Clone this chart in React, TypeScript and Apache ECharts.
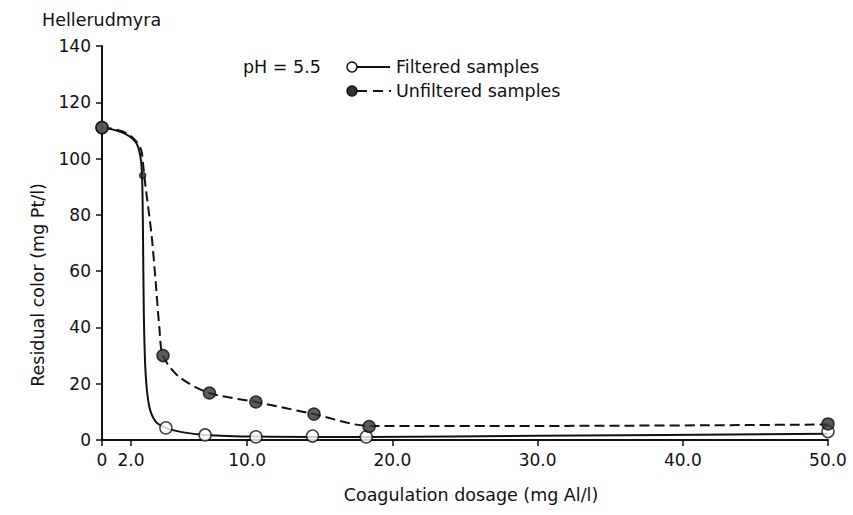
import React, { useEffect, useRef } from "react";
import * as echarts from "echarts";

// Marker points
const filteredX = [0, 4.4, 7.1, 10.6, 14.5, 18.2, 50];
const filteredY = [111, 4.3, 1.8, 1.1, 1.4, 1.1, 3.0];
const unfilteredX = [0, 2.8, 4.2, 7.4, 10.6, 14.6, 18.4, 50];
const unfilteredY = [111, 94, 30, 16.7, 13.5, 9.2, 4.8, 5.7];

// Hand-drawn fitted curves
const filteredCurveX = [0, 1.0, 1.7, 2.3, 2.6, 2.75, 2.82, 2.88, 3.0, 3.25, 3.7, 4.4, 5.5, 7.1, 10.6, 14.5, 18.2, 30, 50];
const filteredCurveY = [111, 110, 108.5, 106, 102, 95, 75, 45, 24, 12, 6.5, 4.3, 2.8, 1.8, 1.2, 1.1, 1.1, 1.5, 2.2];
const unfilteredCurveX = [0, 1.0, 1.7, 2.3, 2.7, 2.85, 3.0, 3.4, 3.7, 3.95, 4.2, 5.3, 7.4, 10.6, 14.6, 18.4, 30, 50];
const unfilteredCurveY = [111, 110.3, 109, 106.5, 103, 97, 90, 73.5, 56, 40, 30, 22.5, 16.7, 13.5, 9.2, 5.0, 5.0, 5.5];

const xTicks = [0, 2, 10, 20, 30, 40, 50];
const yTicks = [0, 20, 40, 60, 80, 100, 120, 140];

const pairs = (xs: number[], ys: number[]) => xs.map((x, i) => [x, ys[i]]);

const FONT = "DejaVu Sans";

export default function App() {
  const ref = useRef<HTMLDivElement>(null);
  useEffect(() => {
    if (!ref.current) return;
    const chart = echarts.init(ref.current, undefined, { renderer: "svg" });
    chart.setOption({
      animation: false,
      backgroundColor: "#ffffff",
      textStyle: { fontFamily: FONT, color: "#111" },
      grid: { left: 102, right: 25, top: 46, bottom: 75 },
      xAxis: {
        type: "value",
        min: 0,
        max: 50,
        name: "Coagulation dosage (mg Al/l)",
        nameLocation: "middle",
        nameGap: 46,
        nameTextStyle: { fontFamily: FONT, fontSize: 17.5, color: "#111", padding: [0, 0, 0, 12] },
        axisLine: { show: true, onZero: false, lineStyle: { color: "#111", width: 2 } },
        axisTick: { show: true, customValues: xTicks, length: 6, lineStyle: { color: "#111", width: 1.5 } },
        axisLabel: {
          customValues: xTicks,
          margin: 11,
          fontFamily: FONT,
          fontSize: 17,
          color: "#111",
          formatter: (v: number) => (v === 0 ? "0" : v.toFixed(1)),
        },
        splitLine: { show: false },
      },
      yAxis: {
        type: "value",
        min: 0,
        max: 140,
        interval: 20,
        axisLine: { show: true, lineStyle: { color: "#111", width: 2 } },
        axisTick: { show: true, length: 6, lineStyle: { color: "#111", width: 1.5 } },
        axisLabel: {
          margin: 11,
          fontFamily: FONT,
          fontSize: 17,
          color: "#111",
          customValues: yTicks,
        },
        splitLine: { show: false },
      },
      series: [
        {
          name: "Filtered curve",
          type: "line",
          data: pairs(filteredCurveX, filteredCurveY),
          smooth: 0.3,
          showSymbol: false,
          lineStyle: { color: "#111", width: 2 },
          z: 2,
        },
        {
          name: "Unfiltered curve",
          type: "line",
          data: pairs(unfilteredCurveX, unfilteredCurveY),
          smooth: 0.3,
          showSymbol: false,
          lineStyle: { color: "#111", width: 2, type: [10, 5] },
          z: 2,
        },
        {
          name: "Filtered samples",
          type: "scatter",
          data: pairs(filteredX, filteredY),
          symbol: "circle",
          symbolSize: 12,
          itemStyle: { color: "#ffffff", borderColor: "#111", borderWidth: 1.5 },
          z: 3,
        },
        {
          name: "Unfiltered samples",
          type: "scatter",
          data: pairs(unfilteredX, unfilteredY),
          symbol: "circle",
          symbolSize: (_v: any, p: any) => (p.dataIndex === 1 ? 6 : 12),
          itemStyle: { color: "#333333", borderColor: "#111", borderWidth: 1.5 },
          z: 4,
        },
      ],
      graphic: [
        {
          type: "text",
          left: 42,
          top: 11,
          style: { text: "Hellerudmyra", font: `17.5px "${FONT}"`, fill: "#111" },
        },
        {
          type: "text",
          x: 38,
          y: 285,
          rotation: Math.PI / 2,
          style: {
            text: "Residual color (mg Pt/l)",
            font: `17.5px "${FONT}"`,
            fill: "#111",
            align: "center",
            verticalAlign: "middle",
          },
        },
        {
          type: "text",
          x: 243,
          y: 67,
          style: { text: "pH = 5.5", font: `17.5px "${FONT}"`, fill: "#111", verticalAlign: "middle" },
        },
        {
          type: "line",
          shape: { x1: 357, y1: 67, x2: 390, y2: 67 },
          style: { stroke: "#111", lineWidth: 2 },
        },
        {
          type: "circle",
          shape: { cx: 352, cy: 67, r: 5 },
          style: { fill: "#fff", stroke: "#111", lineWidth: 1.5 },
        },
        {
          type: "text",
          x: 396,
          y: 67,
          style: { text: "Filtered samples", font: `17.5px "${FONT}"`, fill: "#111", verticalAlign: "middle" },
        },
        {
          type: "line",
          shape: { x1: 357, y1: 91, x2: 391, y2: 91 },
          style: { stroke: "#111", lineWidth: 2, lineDash: [10, 6] },
        },
        {
          type: "circle",
          shape: { cx: 352, cy: 91, r: 5 },
          style: { fill: "#333333", stroke: "#111", lineWidth: 1.5 },
        },
        {
          type: "text",
          x: 396,
          y: 91,
          style: { text: "Unfiltered samples", font: `17.5px "${FONT}"`, fill: "#111", verticalAlign: "middle" },
        },
      ],
    });
    return () => chart.dispose();
  }, []);
  return <div ref={ref} style={{ width: 853, height: 515, position: "fixed", left: 0, top: 0 }} />;
}
